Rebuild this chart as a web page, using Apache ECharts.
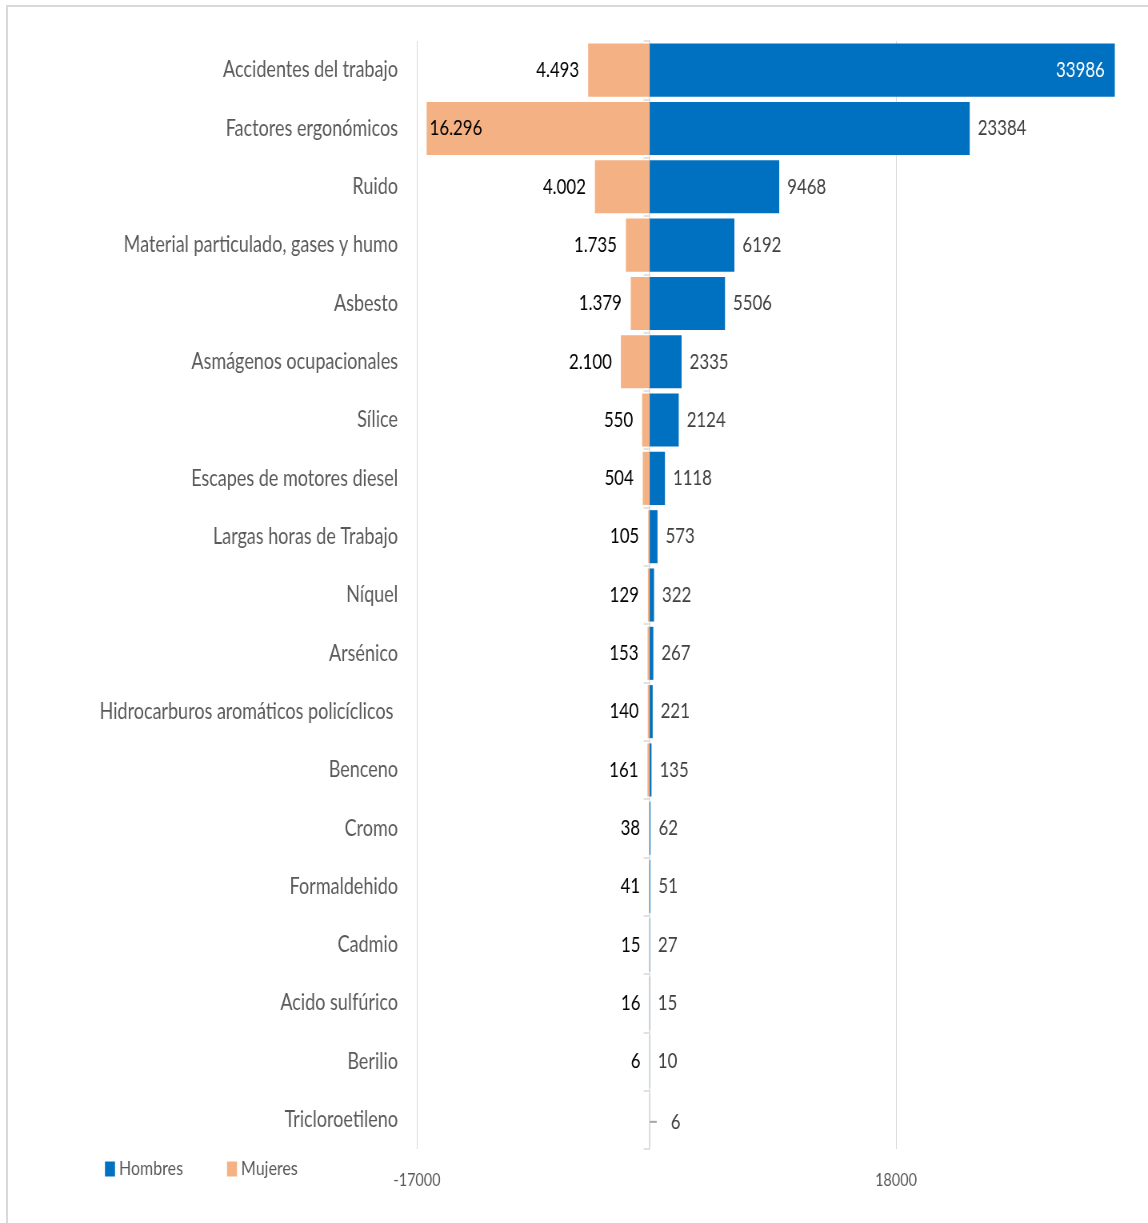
<!DOCTYPE html>
<html>
<head>
<meta charset="utf-8">
<script src="https://cdn.jsdelivr.net/npm/echarts@6/dist/echarts.min.js"></script>
<style>
  html, body { margin: 0; padding: 0; background: #fff; overflow: hidden; }
  #frame { position: absolute; left: 6px; top: 5px; width: 1160px; height: 1240px;
           border-top: 2px solid #d9d9d9; border-left: 2px solid #d9d9d9; box-sizing: border-box; }
  /* the chart is laid out wider and squeezed horizontally for a condensed look */
  #chart { position: absolute; left: 0; top: 0; width: 1435px; height: 1223px;
           transform: scaleX(0.8); transform-origin: 0 0; }
</style>
</head>
<body>
<div id="frame"></div>
<div id="chart"></div>
<script>
// Exposure categories (top to bottom)
const categories = [
  'Accidentes del trabajo', 'Factores ergonómicos', 'Ruido',
  'Material particulado, gases y humo', 'Asbesto', 'Asmágenos ocupacionales',
  'Sílice', 'Escapes de motores diesel', 'Largas horas de Trabajo', 'Níquel',
  'Arsénico', 'Hidrocarburos aromáticos policíclicos ', 'Benceno', 'Cromo',
  'Formaldehido', 'Cadmio', 'Acido sulfúrico', 'Berilio', 'Tricloroetileno'
];
// Men
const hombres = [33986, 23384, 9468, 6192, 5506, 2335, 2124, 1118, 573, 322,
                 267, 221, 135, 62, 51, 27, 15, 10, 6];
// Women (drawn to the left of zero)
const mujeres = [4493, 16296, 4002, 1735, 1379, 2100, 550, 504, 105, 129,
                 153, 140, 161, 38, 41, 15, 16, 6, null];
// Value axis ticks
const axisMin = -17000;
const axisMax = 34000;
const axisStep = 35000;

const FONT = 'Lato, "Liberation Sans", sans-serif';
const BLUE = '#0070C0';
const ORANGE = '#F4B183';
const K = 1 / 0.8; // horizontal layout factor (undone by the CSS squeeze)

// Spanish thousands grouping: 4493 -> 4.493
function fmtES(v) {
  return String(Math.round(Math.abs(v))).replace(/\B(?=(\d{3})+(?!\d))/g, '.');
}

const hMax = Math.max(...hombres);
const mMax = Math.max(...mujeres.filter(v => v != null));
const lastIdx = mujeres.findIndex(v => v == null);

const hData = hombres.map(function (v, i) {
  const item = { value: v };
  if (v === hMax) {
    item.label = { position: 'insideRight', color: '#ffffff', distance: 10 * K };
  } else if (i === lastIdx) {
    // short leader stub in front of the value
    item.label = {
      distance: 0,
      offset: [0, 2],
      formatter: function (p) { return '{stub| }{gap| }{v|' + p.value + '}'; },
      rich: {
        stub: { width: 7 * K, height: 2, backgroundColor: '#a6a6a6', verticalAlign: 'middle' },
        gap: { width: 14 * K, fontSize: 21 },
        v: { fontFamily: FONT, fontSize: 21, color: '#404040' }
      }
    };
  }
  return item;
});
const mData = mujeres.map(function (v) {
  if (v == null) return null;
  const item = { value: -v };
  if (v === mMax) item.label = { position: 'insideLeft', distance: 3 * K };
  return item;
});

const chart = echarts.init(document.getElementById('chart'), null, { renderer: 'canvas' });
chart.setOption({
  animation: false,
  backgroundColor: 'transparent',
  textStyle: { fontFamily: FONT },
  grid: { left: 417 * K, right: 33 * K, top: 41, bottom: 74 },
  legend: {
    left: 101 * K, top: 1154,
    itemWidth: 10 * K, itemHeight: 15, itemGap: 44 * K,
    icon: 'rect',
    textStyle: { fontFamily: FONT, fontSize: 20, color: '#595959' },
    data: ['Hombres', 'Mujeres']
  },
  xAxis: {
    type: 'value', min: axisMin, max: axisMax, interval: axisStep,
    axisLine: { show: false }, axisTick: { show: false },
    axisLabel: { showMaxLabel: false, fontFamily: FONT, fontSize: 18, color: '#595959', margin: 22,
                 formatter: function (v) { return String(v); } },
    splitLine: { show: true, lineStyle: { color: ['#d9d9d9', '#d9d9d9', 'rgba(0,0,0,0)'], width: 1 } }
  },
  yAxis: [
    {
      type: 'category', data: categories, inverse: true,
      axisLine: { show: false, onZero: false }, axisTick: { show: false },
      axisLabel: { fontFamily: FONT, fontSize: 22.5, color: '#595959', margin: 19 * K }
    },
    {
      // zero line with short boundary ticks
      type: 'category', data: categories, inverse: true, position: 'left',
      axisLine: { show: true, onZero: true, onZeroAxisIndex: 0, lineStyle: { color: '#d9d9d9', width: 1.5 } },
      axisTick: { show: true, length: 6 * K, lineStyle: { color: '#d9d9d9', width: 1.5 } },
      axisLabel: { show: false }, splitLine: { show: false }
    }
  ],
  series: [
    {
      name: 'Hombres', type: 'bar', data: hData,
      barGap: '-100%', barCategoryGap: '9%',
      itemStyle: { color: BLUE },
      label: { show: true, position: 'right', distance: 8 * K, fontFamily: FONT, fontSize: 21, color: '#404040' },
      z: 3
    },
    {
      name: 'Mujeres', type: 'bar', data: mData,
      barGap: '-100%', barCategoryGap: '9%',
      itemStyle: { color: ORANGE },
      label: {
        show: true, position: 'left', distance: 9 * K, fontFamily: FONT, fontSize: 21, color: '#000000',
        formatter: function (p) { return fmtES(p.value); }
      },
      z: 3
    }
  ]
});
</script>
</body>
</html>
